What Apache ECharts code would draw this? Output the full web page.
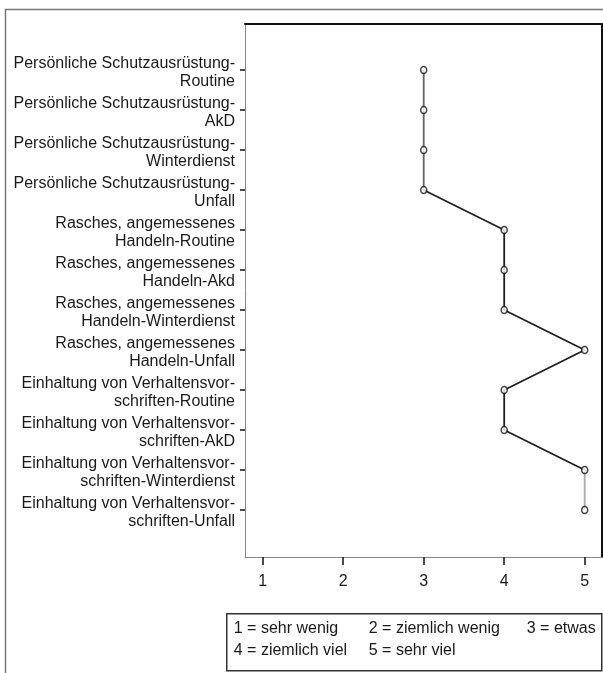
<!DOCTYPE html>
<html>
<head>
<meta charset="utf-8">
<script src="https://cdn.jsdelivr.net/npm/echarts@6/dist/echarts.min.js"></script>
<style>
html,body{margin:0;padding:0;background:#fff;}
#chart{width:603px;height:673px;}
</style>
</head>
<body>
<div id="chart"></div>
<script>
var categories = [
  "Persönliche Schutzausrüstung-\nRoutine",
  "Persönliche Schutzausrüstung-\nAkD",
  "Persönliche Schutzausrüstung-\nWinterdienst",
  "Persönliche Schutzausrüstung-\nUnfall",
  "Rasches, angemessenes\nHandeln-Routine",
  "Rasches, angemessenes\nHandeln-Akd",
  "Rasches, angemessenes\nHandeln-Winterdienst",
  "Rasches, angemessenes\nHandeln-Unfall",
  "Einhaltung von Verhaltensvor-\nschriften-Routine",
  "Einhaltung von Verhaltensvor-\nschriften-AkD",
  "Einhaltung von Verhaltensvor-\nschriften-Winterdienst",
  "Einhaltung von Verhaltensvor-\nschriften-Unfall"
];
var values = [3, 3, 3, 3, 4, 4, 4, 5, 4, 4, 5, 5];
var xTicks = [1, 2, 3, 4, 5];
var legendItems = ["1 = sehr wenig", "2 = ziemlich wenig", "3 = etwas", "4 = ziemlich viel", "5 = sehr viel"];

var FONT = "'Liberation Sans', Arial, sans-serif";
var catIdx = categories.map(function (c, i) { return i; });
var pts = values.map(function (v, i) { return [v, i]; });

var legendCols = [7, 142, 300];
var legendChildren = [{
  type: 'rect',
  shape: { x: 0, y: 0, width: 375, height: 57 },
  style: { fill: '#fff', stroke: '#333', lineWidth: 1.5 }
}];
legendItems.forEach(function (t, i) {
  legendChildren.push({
    type: 'text',
    x: legendCols[i % 3],
    y: i < 3 ? 15 : 37,
    style: { text: t, font: '16px ' + FONT, fill: '#1a1a1a', textVerticalAlign: 'middle', textAlign: 'left' }
  });
});

var chart = echarts.init(document.getElementById('chart'), null, { renderer: 'canvas' });
chart.setOption({
  animation: false,
  backgroundColor: '#fff',
  grid: { left: 245, top: 24, right: 1, bottom: 116, containLabel: false },
  xAxis: [{
    type: 'value', position: 'bottom', min: 0.78, max: 5.215,
    axisLine: { show: true, onZero: false, lineStyle: { color: '#888', width: 1 } },
    axisTick: { show: true, length: 8, customValues: xTicks, lineStyle: { color: '#111', width: 1.5 } },
    axisLabel: { customValues: xTicks, margin: 17, fontSize: 16, fontFamily: FONT, color: '#1a1a1a' },
    splitLine: { show: false }
  }, {
    type: 'value', position: 'top', min: 0.78, max: 5.215,
    axisLine: { show: true, onZero: false, lineStyle: { color: '#111', width: 2 } },
    axisTick: { show: false }, axisLabel: { show: false }, splitLine: { show: false }
  }],
  yAxis: [{
    type: 'value', position: 'left', inverse: true, min: -1.15, max: 12.175,
    axisLine: { show: true, onZero: false, lineStyle: { color: '#888', width: 1 } },
    axisTick: { show: true, length: 5, customValues: catIdx, lineStyle: { color: '#111', width: 1.5 } },
    axisLabel: {
      customValues: catIdx, margin: 10, color: '#1a1a1a', align: 'right',
      showMinLabel: true, showMaxLabel: true, hideOverlap: false,
      formatter: function (v) {
        var lines = (categories[Math.round(v)] || '').split('\n');
        return '{s| }\n' + lines.map(function (l) { return '{a|' + l + '}'; }).join('\n');
      },
      rich: {
        s: { fontSize: 1, lineHeight: 5, fontFamily: FONT },
        a: { fontSize: 16, lineHeight: 18, fontFamily: FONT, color: '#1a1a1a', align: 'right' }
      }
    },
    splitLine: { show: false }
  }, {
    type: 'value', position: 'right', inverse: true, min: -1.15, max: 12.175,
    axisLine: { show: true, onZero: false, lineStyle: { color: '#111', width: 2 } },
    axisTick: { show: false }, axisLabel: { show: false }, splitLine: { show: false }
  }],
  visualMap: {
    type: 'piecewise', show: false, dimension: 1, seriesIndex: 0,
    pieces: [
      { lte: 3, color: '#666' },
      { gt: 3, lte: 10, color: '#1e1e1e' },
      { gt: 10, color: '#aaa' }
    ]
  },
  series: [{
    type: 'line', data: pts, symbol: 'none',
    lineStyle: { width: 1.8 }, z: 2
  }, {
    type: 'scatter', data: pts, symbol: 'circle', symbolSize: [6, 7],
    itemStyle: { color: '#fff', borderColor: '#111', borderWidth: 1.6 }, z: 3
  }],
  graphic: [{
    type: 'rect', left: 3, top: 7, z: 0,
    shape: { x: 0, y: 0, width: 700, height: 700 },
    style: { fill: 'none', stroke: '#777', lineWidth: 1.5 }
  }, {
    type: 'group', left: 226, top: 613, children: legendChildren
  }]
});
</script>
</body>
</html>
